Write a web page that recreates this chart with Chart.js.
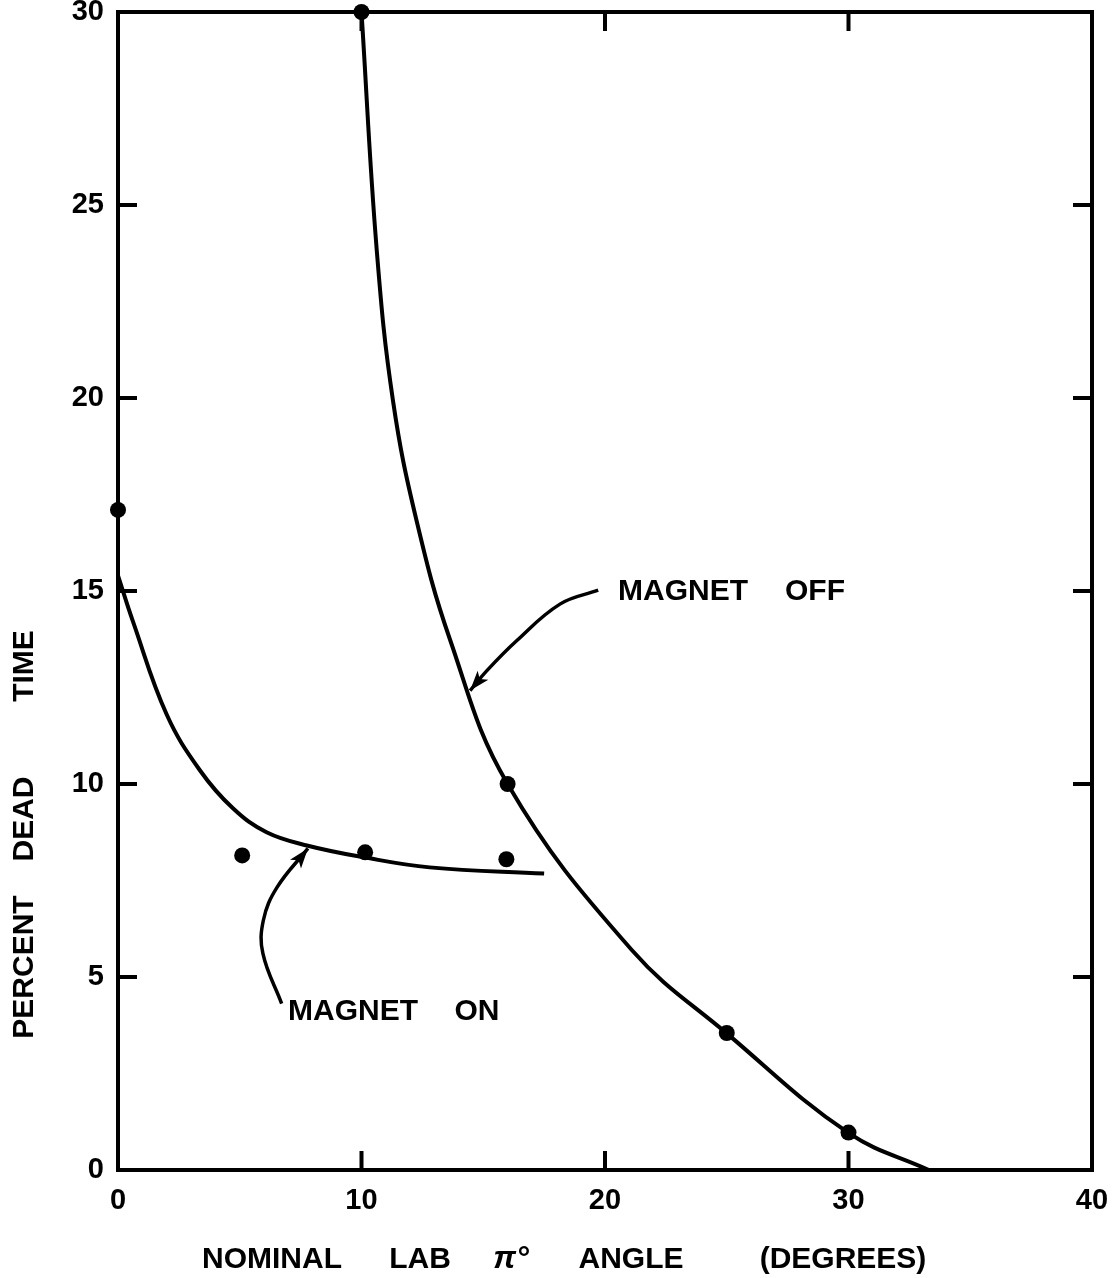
<!DOCTYPE html>
<html lang="en">
<head>
    <meta charset="UTF-8">
    <title>Percent dead time vs nominal lab pi0 angle</title>
    <style>
        html, body {
            margin: 0;
            padding: 0;
            background: #fff;
        }
        #deadTimeChart {
            display: block;
        }
    </style>
</head>
<body>
    <canvas id="deadTimeChart" width="1114" height="1278"></canvas>

    <script src="https://cdn.jsdelivr.net/npm/chart.js"></script>
    <script>
        // measured points (degrees, percent dead time)
        const measuredAngle = [0, 5.1, 10.15, 15.95, 10, 16, 25, 30];
        const measuredDeadTime = [17.1, 8.15, 8.23, 8.05, 30, 10, 3.55, 0.97];

        // hand-drawn curve, magnet off
        const offAngle = [10, 10.63, 11.3, 12.27, 13.63, 16, 21.1, 25, 30, 33.3];
        const offDeadTime = [30, 23.8, 19.9, 16.8, 13.75, 10.0, 5.7, 3.54, 0.96, 0];

        // hand-drawn curve, magnet on
        const onAngle = [0, 0.62, 2.0, 3.37, 4.72, 6.1, 7.8, 10.1, 12.8, 17.5];
        const onDeadTime = [15.4, 14.2, 11.8, 10.35, 9.37, 8.75, 8.4, 8.1, 7.84, 7.68];

        // label arrows
        const offArrowAngle = [19.72, 18.15, 16.37, 15.14, 14.46];
        const offArrowDeadTime = [15.02, 14.66, 13.71, 12.93, 12.42];
        const onArrowAngle = [6.72, 5.95, 5.97, 6.53, 7.8];
        const onArrowDeadTime = [4.31, 5.61, 6.47, 7.32, 8.33];

        const xTicks = [0, 10, 20, 30, 40];
        const yTicks = [0, 5, 10, 15, 20, 25, 30];

        const toPoints = (xs, ys) => xs.map((x, i) => ({ x: x, y: ys[i] }));

        const labelFont = '"Liberation Sans", Arial, sans-serif';

        const framePlugin = {
            id: 'frameAndLabels',
            beforeDatasetsDraw(chart) {
                const { ctx, chartArea: a, scales } = chart;
                ctx.save();
                ctx.strokeStyle = '#000';
                ctx.lineWidth = 4;
                ctx.lineCap = 'square';
                ctx.strokeRect(a.left, a.top, a.right - a.left, a.bottom - a.top);

                // inward ticks on all four sides
                const tl = 19;
                ctx.beginPath();
                scales.x.ticks.forEach(t => {
                    if (t.value <= 0 || t.value >= 40) return;
                    const px = scales.x.getPixelForValue(t.value);
                    ctx.moveTo(px, a.bottom); ctx.lineTo(px, a.bottom - tl);
                    ctx.moveTo(px, a.top); ctx.lineTo(px, a.top + tl);
                });
                scales.y.ticks.forEach(t => {
                    if (t.value <= 0 || t.value >= 30) return;
                    const py = scales.y.getPixelForValue(t.value);
                    ctx.moveTo(a.left, py); ctx.lineTo(a.left + tl, py);
                    ctx.moveTo(a.right, py); ctx.lineTo(a.right - tl, py);
                });
                ctx.lineCap = 'butt';
                ctx.stroke();
                ctx.restore();
            },
            afterDatasetsDraw(chart) {
                const { ctx } = chart;
                ctx.save();
                ctx.fillStyle = '#000';

                // arrow heads at the end of the two label arrows
                [3, 4].forEach(i => {
                    const pts = chart.getDatasetMeta(i).data;
                    const tip = pts[pts.length - 1];
                    const prev = pts[pts.length - 2];
                    const ang = Math.atan2(tip.y - prev.y, tip.x - prev.x);
                    const len = 20, half = 7;
                    ctx.save();
                    ctx.translate(tip.x, tip.y);
                    ctx.rotate(ang);
                    ctx.beginPath();
                    ctx.moveTo(0, 0);
                    ctx.lineTo(-len, -half);
                    ctx.lineTo(-len * 0.75, 0);
                    ctx.lineTo(-len, half);
                    ctx.closePath();
                    ctx.fill();
                    ctx.restore();
                });

                ctx.font = 'bold 30px ' + labelFont;
                ctx.textBaseline = 'alphabetic';
                ctx.textAlign = 'center';

                // curve labels
                ctx.fillText('MAGNET', 683, 600);
                ctx.fillText('OFF', 815, 600);
                ctx.fillText('MAGNET', 353, 1020);
                ctx.fillText('ON', 477, 1020);

                // x axis title
                ctx.fillText('NOMINAL', 272, 1268);
                ctx.fillText('LAB', 420, 1268);
                ctx.font = 'italic bold 32px ' + labelFont;
                ctx.fillText('π°', 511, 1268);
                ctx.font = 'bold 30px ' + labelFont;
                ctx.fillText('ANGLE', 631, 1268);
                ctx.fillText('(DEGREES)', 843, 1268);

                // y axis title, reading upwards
                ctx.save();
                ctx.translate(33, 0);
                ctx.rotate(-Math.PI / 2);
                ctx.fillText('PERCENT', -967, 0);
                ctx.fillText('DEAD', -819, 0);
                ctx.fillText('TIME', -666, 0);
                ctx.restore();

                ctx.restore();
            }
        };

        const tickFont = { family: labelFont, size: 29, weight: 'bold' };

        const curveStyle = {
            showLine: true,
            pointRadius: 0,
            borderColor: '#000',
            tension: 0.4,
            clip: false,
            order: 1
        };

        new Chart(document.getElementById('deadTimeChart').getContext('2d'), {
            type: 'scatter',
            data: {
                datasets: [
                    {
                        label: 'Measured',
                        data: toPoints(measuredAngle, measuredDeadTime),
                        pointRadius: 8,
                        backgroundColor: '#000',
                        borderWidth: 0,
                        showLine: false,
                        clip: false,
                        order: 0
                    },
                    Object.assign({ label: 'Magnet off', data: toPoints(offAngle, offDeadTime), borderWidth: 4 }, curveStyle),
                    Object.assign({ label: 'Magnet on', data: toPoints(onAngle, onDeadTime), borderWidth: 4 }, curveStyle),
                    Object.assign({ label: 'Arrow off', data: toPoints(offArrowAngle, offArrowDeadTime), borderWidth: 3.5 }, curveStyle),
                    Object.assign({ label: 'Arrow on', data: toPoints(onArrowAngle, onArrowDeadTime), borderWidth: 3.5 }, curveStyle)
                ]
            },
            options: {
                responsive: false,
                animation: false,
                layout: { padding: { top: 12, right: 22, left: 0, bottom: 0 } },
                plugins: {
                    legend: { display: false },
                    tooltip: { enabled: false }
                },
                scales: {
                    x: {
                        type: 'linear',
                        min: 0,
                        max: 40,
                        afterBuildTicks: s => { s.ticks = xTicks.map(v => ({ value: v })); },
                        ticks: { color: '#000', font: tickFont, padding: 14, maxRotation: 0 },
                        grid: { display: false, drawTicks: false },
                        border: { display: false },
                        afterFit: s => { s.height = 108; s.paddingLeft = 0; s.paddingRight = 0; }
                    },
                    y: {
                        type: 'linear',
                        min: 0,
                        max: 30,
                        afterBuildTicks: s => { s.ticks = yTicks.map(v => ({ value: v })); },
                        ticks: { color: '#000', font: tickFont, padding: 14 },
                        grid: { display: false, drawTicks: false },
                        border: { display: false },
                        afterFit: s => { s.width = 118; s.paddingTop = 0; s.paddingBottom = 0; }
                    }
                }
            },
            plugins: [framePlugin]
        });
    </script>
</body>
</html>
